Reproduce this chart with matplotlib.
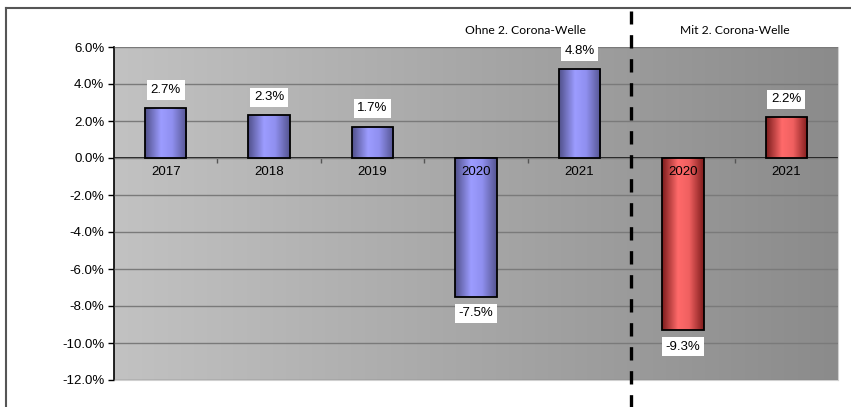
import numpy as np
import matplotlib
matplotlib.use("Agg")
import matplotlib.pyplot as plt
from matplotlib.colors import LinearSegmentedColormap
from matplotlib.patches import Rectangle
from matplotlib.ticker import FuncFormatter
import matplotlib.transforms as mtransforms

# growth rates per year, two scenarios
years = ["2017", "2018", "2019", "2020", "2021", "2020", "2021"]
growth = [2.7, 2.3, 1.7, -7.5, 4.8, -9.3, 2.2]
scenario = ["ohne", "ohne", "ohne", "ohne", "ohne", "mit", "mit"]
scenario_titles = {"ohne": "Ohne 2. Corona-Welle", "mit": "Mit 2. Corona-Welle"}

plt.rcParams["font.family"] = ["Liberation Sans", "DejaVu Sans"]

blue_cmap = LinearSegmentedColormap.from_list(
    "blue_bar", [(0, "#50508a"), (0.38, "#9c9cff"), (0.65, "#9090f0"), (1, "#545490")])
red_cmap = LinearSegmentedColormap.from_list(
    "red_bar", [(0, "#7c1c1c"), (0.38, "#ff6a6a"), (0.65, "#f06060"), (1, "#801c1c")])
bg_cmap = LinearSegmentedColormap.from_list("bg", ["#c2c2c2", "#8b8b8b"])

fig = plt.figure(figsize=(8.51, 4.07), dpi=100)
ax = fig.add_axes([114 / 851, 27 / 407, 724 / 851, 333 / 407])

n = len(years)
x = np.arange(n)
bar_w = 0.4
ax.set_xlim(-0.5, n - 0.5)
ax.set_ylim(-12, 6)

# gradient background of the plot area
grad = np.linspace(0, 1, 256).reshape(1, -1)
ax.imshow(grad, cmap=bg_cmap, extent=[-0.5, n - 0.5, -12, 6], aspect="auto", zorder=0)

ax.set_yticks(np.arange(-12, 7, 2))
ax.yaxis.set_major_formatter(FuncFormatter(lambda v, p: f"{v:.1f}%"))
ax.yaxis.grid(True, color="#7a7a7a", lw=1)
ax.set_axisbelow(False)
for line in ax.get_ygridlines():
    line.set_zorder(1)
ax.set_xticks([])
ax.tick_params(axis="y", length=4, width=1, labelsize=9.5, pad=3)

ax.spines["top"].set_visible(False)
ax.spines["bottom"].set_color("#d0d0d0")
ax.spines["right"].set_color("#d0d0d0")
ax.spines["left"].set_color("black")
ax.spines["left"].set_linewidth(1.2)

# zero line with small category ticks
ax.axhline(0, color="black", lw=1.2, zorder=2)
bounds = np.arange(n + 1) - 0.5
ax.vlines(bounds[1:-1], -0.25, 0, color="#555555", lw=1, zorder=2)

for i, (val, sc) in enumerate(zip(growth, scenario)):
    cmap = blue_cmap if sc == "ohne" else red_cmap
    x0 = x[i] - bar_w / 2
    y0, y1 = min(0, val), max(0, val)
    img = ax.imshow(np.linspace(0, 1, 128).reshape(1, -1), cmap=cmap,
                    extent=[x0, x0 + bar_w, y0, y1], aspect="auto", zorder=3)
    rect = Rectangle((x0, 0), bar_w, val, facecolor="none",
                     edgecolor="black", lw=1.3, zorder=4)
    ax.add_patch(rect)
    img.set_clip_path(rect)

    off = 13 if val >= 0 else -12
    ax.annotate(f"{val:.1f}%", (x[i], val), xytext=(0, off), textcoords="offset points",
                ha="center", va="center", fontsize=9.5, zorder=6,
                bbox=dict(boxstyle="square,pad=0.28", fc="white", ec="none"))
    ax.annotate(years[i], (x[i], 0), xytext=(0, -10), textcoords="offset points",
                ha="center", va="center", fontsize=9.5, zorder=6)

# separator between scenarios and headers
split = [i for i in range(n) if scenario[i] == "mit"][0] - 0.5
trans = mtransforms.blended_transform_factory(ax.transData, ax.transAxes)
ax.plot([split, split], [-0.09, 1.107], transform=trans, color="black", lw=2.4,
        dashes=(4, 3.2), clip_on=False, zorder=7)

ohne_idx = [i for i in range(n) if scenario[i] == "ohne"]
mit_idx = [i for i in range(n) if scenario[i] == "mit"]
ax.text(ohne_idx[-1] - 0.52, 1.051, scenario_titles["ohne"], transform=trans,
        ha="center", va="center", fontsize=8.7, family=["Lato", "DejaVu Sans"])
ax.text(np.mean(mit_idx), 1.051, scenario_titles["mit"], transform=trans,
        ha="center", va="center", fontsize=8.7, family=["Lato", "DejaVu Sans"])

# outer frame of the chart object
fig.add_artist(plt.Line2D([6 / 851, 1], [1 - 8 / 407, 1 - 8 / 407],
                          transform=fig.transFigure, color="#555555", lw=1.5))
fig.add_artist(plt.Line2D([6 / 851, 6 / 851], [0, 1 - 8 / 407],
                          transform=fig.transFigure, color="#555555", lw=1.5))

fig.savefig("out.png", dpi=100)
